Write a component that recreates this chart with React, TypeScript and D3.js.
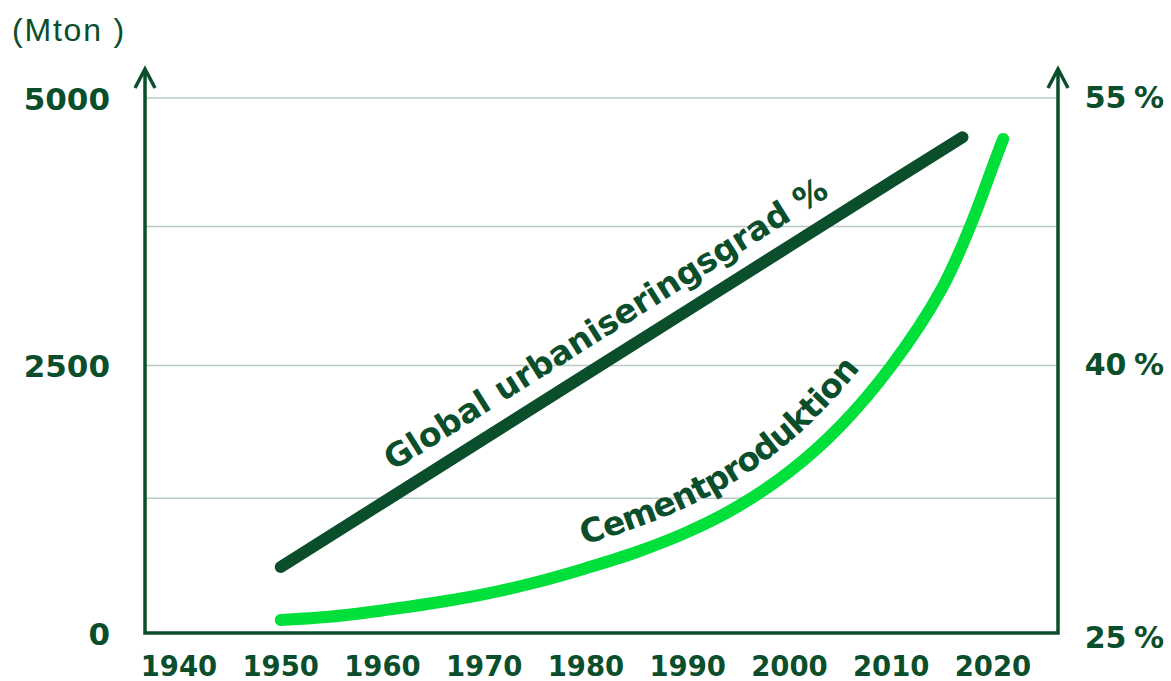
import React, { useEffect, useRef } from "react";
import * as d3 from "d3";

// ---- Data ----
const cementYears = [1950, 1955, 1960, 1965, 1970, 1975, 1980, 1985, 1990, 1995, 2000, 2005, 2010, 2015, 2018, 2020, 2021];
const cementMton = [121, 154, 211, 280, 363, 472, 606, 757, 945, 1187, 1509, 1935, 2495, 3224, 3857, 4366, 4617];
const urbanYears = [1950, 1960, 1970, 1980, 1990, 2000, 2010, 2017];
const urbanPct = [28.7, 32.3, 35.9, 39.5, 43.1, 46.7, 50.3, 52.8];
const xTicks = [1940, 1950, 1960, 1970, 1980, 1990, 2000, 2010, 2020];
const leftTicks = [0, 2500, 5000];
const rightTicks = [25, 40, 55];
const gridValues = [1260, 2500, 3800, 5000];
const unitLabel = "(Mton )";
const urbanLabel = "Global urbaniseringsgrad %";
const cementLabel = "Cementproduktion";

const DARK = "#0a4e2c";
const BRIGHT = "#00df3a";
const GRID = "#b8ccc4";
const FONT = "'DejaVu Sans', sans-serif";

export default function App() {
  const ref = useRef<SVGSVGElement | null>(null);

  useEffect(() => {
    const svg = d3.select(ref.current);
    svg.selectAll("*").remove();

    const xLeft = 145, xRight = 1058, yBottom = 633, yTop = 98;
    const x = d3.scaleLinear().domain([1940, 2020]).range([179, 993]);
    const yL = d3.scaleLinear().domain([0, 5000]).range([yBottom, yTop]);
    const yR = d3.scaleLinear().domain([25, 55]).range([yBottom, yTop]);

    // unit label
    svg.append("text").attr("x", 12).attr("y", 41)
      .attr("font-family", "'Liberation Sans', Arial, sans-serif")
      .attr("font-size", 32).attr("letter-spacing", 1.8)
      .attr("fill", DARK).text(unitLabel);

    // grid
    svg.append("g").selectAll("line").data(gridValues).join("line")
      .attr("x1", xLeft).attr("x2", xRight)
      .attr("y1", (d) => yL(d)).attr("y2", (d) => yL(d))
      .attr("stroke", GRID).attr("stroke-width", 1.5);

    // axes
    const ax = svg.append("g").attr("stroke", DARK).attr("fill", "none")
      .attr("stroke-width", 3.5).attr("stroke-linecap", "butt");
    ax.append("path").attr("d", `M${xLeft},${69}V${yBottom}H${xRight}V${69}`)
      .attr("stroke-linejoin", "miter");
    [xLeft, xRight].forEach((ax0) => {
      ax.append("path").attr("d", `M${ax0 - 10},${88}L${ax0},${69}L${ax0 + 10},${88}`)
        .attr("stroke-width", 3.5).attr("stroke-linejoin", "miter");
    });

    // left tick labels
    svg.append("g").selectAll("text").data(leftTicks).join("text")
      .attr("x", 110).attr("y", (d) => yL(d) + 3)
      .attr("dominant-baseline", "middle").attr("text-anchor", "end")
      .attr("font-family", FONT).attr("font-weight", 700).attr("font-size", 31)
      .attr("fill", DARK).text((d) => String(d));

    // right tick labels
    svg.append("g").selectAll("text").data(rightTicks).join("text")
      .attr("x", 1164).attr("y", (d) => yR(d) + (d === 25 ? 6 : 1))
      .attr("dominant-baseline", "middle").attr("text-anchor", "end")
      .attr("font-family", FONT).attr("font-weight", 700).attr("font-size", 30)
      .attr("word-spacing", -3)
      .attr("fill", DARK).text((d) => `${d} %`);

    // x tick labels
    svg.append("g").selectAll("text").data(xTicks).join("text")
      .attr("x", (d) => x(d)).attr("y", 676)
      .attr("text-anchor", "middle")
      .attr("font-family", FONT).attr("font-weight", 700).attr("font-size", 27.5)
      .attr("fill", DARK).text((d) => String(d));

    // lines
    const urbanData = urbanYears.map((yr, i) => [yr, urbanPct[i]] as [number, number]);
    const cementData = cementYears.map((yr, i) => [yr, cementMton[i]] as [number, number]);

    const urbanLine = d3.line<[number, number]>().x((d) => x(d[0])).y((d) => yR(d[1]));
    const cementLine = d3.line<[number, number]>().x((d) => x(d[0])).y((d) => yL(d[1]))
      .curve(d3.curveCatmullRom.alpha(0.5));

    const uPath = svg.append("path").attr("id", "urbanPath").attr("d", urbanLine(urbanData))
      .attr("fill", "none").attr("stroke", DARK).attr("stroke-width", 12)
      .attr("stroke-linecap", "round");
    const cPath = svg.append("path").attr("id", "cementPath").attr("d", cementLine(cementData))
      .attr("fill", "none").attr("stroke", BRIGHT).attr("stroke-width", 12)
      .attr("stroke-linecap", "round");

    const offsetAtX = (p: SVGPathElement, targetX: number) => {
      const total = p.getTotalLength();
      for (let l = 0; l <= total; l += 1) {
        if (p.getPointAtLength(l).x >= targetX) return l;
      }
      return 0;
    };

    const addLabel = (p: SVGPathElement, id: string, label: string, startX: number, dy: number) => {
      const off = offsetAtX(p, startX);
      const t = svg.append("text").attr("font-family", FONT).attr("font-weight", 700)
        .attr("font-size", 33).attr("fill", DARK);
      t.append("textPath").attr("href", `#${id}`).attr("startOffset", off)
        .append("tspan").attr("dy", dy).text(label);
    };

    addLabel(uPath.node() as SVGPathElement, "urbanPath", urbanLabel, 404, -21);
    addLabel(cPath.node() as SVGPathElement, "cementPath", cementLabel, 590, -23);
  }, []);

  return (
    <svg ref={ref} width={1171} height={681}
      style={{ position: "absolute", left: 0, top: 0, background: "#fff" }} />
  );
}
